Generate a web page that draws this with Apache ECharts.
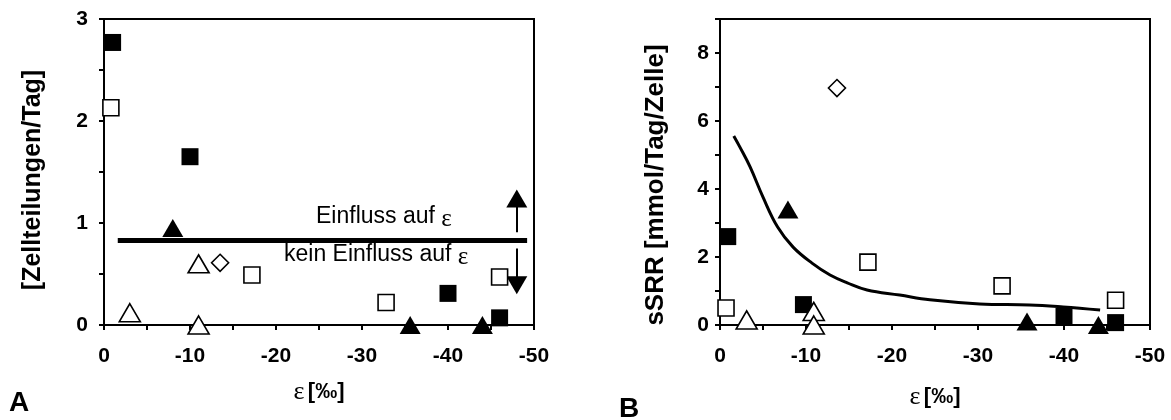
<!DOCTYPE html>
<html>
<head>
<meta charset="utf-8">
<script src="https://cdn.jsdelivr.net/npm/echarts@6/dist/echarts.min.js"></script>
<style>
    html, body {margin: 0; padding: 0; background: #fff;}
    #main {width: 1171px; height: 420px;}
</style>
</head>
<body>
<div id="main"></div>
<script>
// panel A: cell divisions per day vs epsilon
var aFilledSquares = [[-1.0, 2.77], [-10.0, 1.65], [-40.0, 0.31], [-46.0, 0.07]];
var aOpenSquares = [[-0.8, 2.13], [-17.2, 0.49], [-32.8, 0.22], [-46.0, 0.47]];
var aFilledTriangles = [[-8.0, 0.95], [-35.6, 0.0], [-44.0, 0.0]];
var aOpenTriangles = [[-3.0, 0.12], [-11.0, 0.0], [-11.0, 0.6]];
var aOpenDiamonds = [[-13.5, 0.61]];
var aThreshold = 0.83;
var aThresholdRange = [-1.6, -49.2];
var aArrowX = -48;
var aArrowUp = [0.91, 1.17, 1.24];    // shaft start, shaft end, head centre
var aArrowDown = [0.75, 0.47, 0.39];

// panel B: sSRR vs epsilon
var bFilledSquares = [[-0.9, 2.6], [-9.7, 0.6], [-40.0, 0.25], [-46.0, 0.07]];
var bOpenSquares = [[-0.7, 0.5], [-17.2, 1.85], [-32.8, 1.15], [-46.0, 0.73]];
var bFilledTriangles = [[-7.9, 3.4], [-35.7, 0.1], [-44.0, 0.0]];
var bOpenTriangles = [[-3.1, 0.15], [-10.9, 0.4], [-10.9, 0.0]];
var bOpenDiamonds = [[-13.6, 6.97]];
var bCurve = [[-1.6, 5.56], [-2.3, 5.24], [-3.5, 4.65], [-5.0, 3.76], [-6.7, 2.88], [-8.5, 2.29],
    [-10.7, 1.82], [-12.8, 1.47], [-14.8, 1.24], [-17.1, 1.03], [-20.9, 0.88], [-24.4, 0.74],
    [-30.2, 0.62], [-36.0, 0.59], [-39.9, 0.53], [-44.2, 0.44]];

var sans = "'Liberation Sans', Arial, sans-serif";
var serif = "'Liberation Serif', 'Times New Roman', serif";

function makeXAxis(gridIndex) {
    return {
        gridIndex: gridIndex,
        type: 'value',
        min: -50,
        max: 0,
        interval: 5,
        inverse: true,
        name: '{e|ε} {b|[‰]}',
        nameLocation: 'middle',
        nameGap: gridIndex === 0 ? 54 : 59,
        nameTextStyle: {
            rich: {
                e: {fontFamily: serif, fontSize: 26, color: '#000'},
                b: {fontFamily: sans, fontSize: 22, fontWeight: 'bold', color: '#000'}
            }
        },
        axisLine: {onZero: false, lineStyle: {color: '#000', width: 2}},
        axisTick: {show: true, length: 5, lineStyle: {color: '#000', width: 2}},
        splitLine: {show: false},
        axisLabel: {
            color: '#000',
            fontFamily: sans,
            fontWeight: 'bold',
            fontSize: 21,
            margin: 21,
            formatter: function (v) {
                return v % 10 === 0 ? String(v) : '';
            }
        }
    };
}

function makeYAxis(gridIndex, max, interval, name, gap, fontSize, shift, labelStep) {
    return {
        gridIndex: gridIndex,
        type: 'value',
        min: 0,
        max: max,
        interval: interval,
        name: name,
        nameLocation: 'middle',
        nameGap: gap,
        nameTextStyle: {
            color: '#000', fontFamily: sans, fontWeight: 'bold', fontSize: fontSize,
            padding: [0, shift, 0, 0]
        },
        axisLine: {onZero: false, lineStyle: {color: '#000', width: 2}},
        axisTick: {show: true, length: 5, lineStyle: {color: '#000', width: 2}},
        splitLine: {show: false},
        axisLabel: {
            color: '#000',
            fontFamily: sans,
            fontWeight: 'bold',
            fontSize: 21,
            margin: gridIndex === 0 ? 16 : 11,
            formatter: function (v) {
                var k = Math.round(v / labelStep);
                return Math.abs(v - k * labelStep) < 1e-6 ? String(v) : '';
            }
        }
    };
}

function makeScatter(data, axisIndex, symbol, size, filled) {
    return {
        type: 'scatter',
        xAxisIndex: axisIndex,
        yAxisIndex: axisIndex,
        data: data,
        symbol: symbol,
        symbolSize: size,
        z: 5,
        silent: true,
        itemStyle: filled ? {color: '#000', opacity: 1} :
            {color: '#fff', borderColor: '#000', borderWidth: 1.6, opacity: 1}
    };
}

function panelSeries(axisIndex, fs, os, ft, ot, od) {
    return [
        makeScatter(fs, axisIndex, 'rect', 17, true),
        makeScatter(os, axisIndex, 'rect', 16, false),
        makeScatter(ft, axisIndex, 'triangle', [21, 18], true),
        makeScatter(ot, axisIndex, 'triangle', [21, 18], false),
        makeScatter(od, axisIndex, 'diamond', [17, 17], false)
    ];
}

var chart = echarts.init(document.getElementById('main'));

var series = [];
series = series.concat(panelSeries(0, aFilledSquares, aOpenSquares, aFilledTriangles, aOpenTriangles, aOpenDiamonds));
series = series.concat(panelSeries(1, bFilledSquares, bOpenSquares, bFilledTriangles, bOpenTriangles, bOpenDiamonds));

// threshold line + arrows in panel A
series.push({
    type: 'line',
    xAxisIndex: 0,
    yAxisIndex: 0,
    data: [],
    silent: true,
    markLine: {
        silent: true,
        symbol: 'none',
        label: {show: false},
        animation: false,
        data: [
            [{coord: [aThresholdRange[0], aThreshold], lineStyle: {width: 5}},
                {coord: [aThresholdRange[1], aThreshold]}],
            [{coord: [aArrowX, aArrowUp[0]], lineStyle: {width: 2}}, {coord: [aArrowX, aArrowUp[1]]}],
            [{coord: [aArrowX, aArrowDown[0]], lineStyle: {width: 2}}, {coord: [aArrowX, aArrowDown[1]]}]
        ],
        lineStyle: {color: '#000', type: 'solid', opacity: 1}
    }
});
series.push({
    type: 'scatter',
    xAxisIndex: 0,
    yAxisIndex: 0,
    silent: true,
    symbol: 'triangle',
    symbolSize: [21, 18],
    itemStyle: {color: '#000', opacity: 1},
    data: [
        {value: [aArrowX, aArrowUp[2]]},
        {value: [aArrowX, aArrowDown[2]], symbolRotate: 180}
    ]
});

// fitted curve in panel B
series.push({
    type: 'line',
    xAxisIndex: 1,
    yAxisIndex: 1,
    data: bCurve,
    smooth: 0.4,
    showSymbol: false,
    silent: true,
    z: 3,
    lineStyle: {color: '#000', width: 3, opacity: 1}
});

var option = {
    animation: false,
    backgroundColor: '#fff',
    grid: [
        {left: 104, top: 19, width: 430, height: 306, show: true, borderColor: '#000', borderWidth: 2},
        {left: 720, top: 19, width: 430, height: 306, show: true, borderColor: '#000', borderWidth: 2}
    ],
    xAxis: [makeXAxis(0), makeXAxis(1)],
    yAxis: [
        makeYAxis(0, 3, 0.5, '[Zellteilungen/Tag]', 58, 25, 16, 1),
        makeYAxis(1, 9, 1, 'sSRR [mmol/Tag/Zelle]', 51, 26, 26, 2)
    ],
    graphic: [
        {
            type: 'text', left: 316, top: 205, silent: true,
            style: {
                text: '{a|Einfluss auf }{e|ε}',
                rich: {
                    a: {fontFamily: sans, fontSize: 23, fill: '#000'},
                    e: {fontFamily: serif, fontSize: 25, fill: '#000', padding: [6, 0, 0, 0]}
                }
            }
        },
        {
            type: 'text', left: 284, top: 243, silent: true,
            style: {
                text: '{a|kein Einfluss auf }{e|ε}',
                rich: {
                    a: {fontFamily: sans, fontSize: 23, fill: '#000'},
                    e: {fontFamily: serif, fontSize: 25, fill: '#000', padding: [6, 0, 0, 0]}
                }
            }
        },
        {
            type: 'text', left: 9, top: 389, silent: true,
            style: {text: 'A', font: 'bold 28px ' + sans, fill: '#000'}
        },
        {
            type: 'text', left: 619, top: 395, silent: true,
            style: {text: 'B', font: 'bold 28px ' + sans, fill: '#000'}
        }
    ],
    series: series
};

chart.setOption(option);
</script>
</body>
</html>
